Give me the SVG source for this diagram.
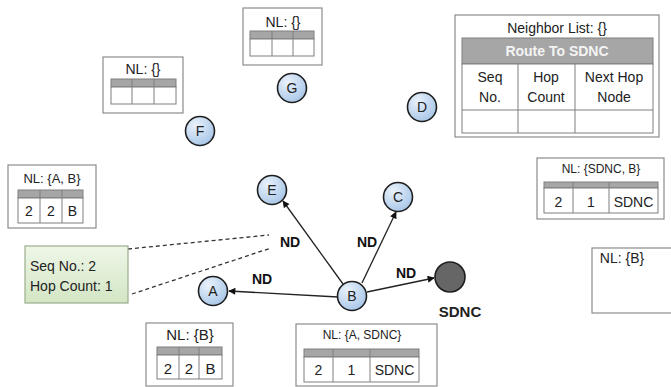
<svg xmlns="http://www.w3.org/2000/svg" width="671" height="387" viewBox="0 0 671 387">
<defs>
  <radialGradient id="nodeFill" cx="0.35" cy="0.3" r="0.8">
    <stop offset="0" stop-color="#eaf2fb"/>
    <stop offset="1" stop-color="#a3c3e6"/>
  </radialGradient>
  <linearGradient id="greenFill" x1="0" y1="0" x2="0" y2="1">
    <stop offset="0" stop-color="#eef6e8"/>
    <stop offset="1" stop-color="#d3e6c4"/>
  </linearGradient>
  <marker id="arr" viewBox="0 0 10 10" refX="9" refY="5" markerWidth="8" markerHeight="7" markerUnits="userSpaceOnUse" orient="auto">
    <path d="M0,0 L10,5 L0,10 z" fill="#111"/>
  </marker>
</defs>
<style>
  text { font-family: "Liberation Sans", Arial, sans-serif; fill: #222; }
  .box { fill: #fff; stroke: #8c8c8c; stroke-width: 1.2; }
  .hdr { fill: #a6a6a6; stroke: #7f7f7f; stroke-width: 1; }
  .cell { fill: #fff; stroke: #7f7f7f; stroke-width: 1; }
  .ln { stroke: #7f7f7f; stroke-width: 1; }
  .node { fill: url(#nodeFill); stroke: #1e1e1e; stroke-width: 1.6; }
  .nlabel { font-size: 14px; text-anchor: middle; fill: #222; }
  .nd { font-size: 14px; font-weight: bold; fill: #111; }
  .edge { stroke: #222; stroke-width: 1.3; fill: none; marker-end: url(#arr); }
  .dash { stroke: #333; stroke-width: 1.3; stroke-dasharray: 4 3; fill: none; }
  .c { text-anchor: middle; }
</style>

<g id="connectors">
  <line class="edge" x1="343" y1="284" x2="283" y2="201"/>
  <line class="edge" x1="362" y1="283" x2="396" y2="212"/>
  <line class="edge" x1="367" y1="292" x2="434" y2="278"/>
  <line class="edge" x1="338" y1="297" x2="229" y2="291"/>
  <line class="dash" x1="128" y1="249" x2="269" y2="235"/>
  <line class="dash" x1="132" y1="294" x2="271" y2="248"/>
  <text class="nd" x="280" y="247">ND</text>
  <text class="nd" x="357" y="247">ND</text>
  <text class="nd" x="396" y="278">ND</text>
  <text class="nd" x="252" y="284">ND</text>
</g>

<g id="node-G"><circle class="node" cx="292" cy="88" r="14.5"/><text class="nlabel" x="292" y="93">G</text></g>
<g id="node-D"><circle class="node" cx="422" cy="107" r="14.5"/><text class="nlabel" x="422" y="112">D</text></g>
<g id="node-F"><circle class="node" cx="200" cy="131" r="14.5"/><text class="nlabel" x="200" y="136">F</text></g>
<g id="node-E"><circle class="node" cx="272" cy="190" r="14.5"/><text class="nlabel" x="272" y="195">E</text></g>
<g id="node-C"><circle class="node" cx="398" cy="197" r="14.5"/><text class="nlabel" x="398" y="202">C</text></g>
<g id="node-A"><circle class="node" cx="213" cy="291" r="14.5"/><text class="nlabel" x="213" y="296">A</text></g>
<g id="node-B"><circle class="node" cx="352" cy="296" r="14.5"/><text class="nlabel" x="352" y="301">B</text></g>
<g id="node-SDNC">
  <circle cx="450" cy="277" r="15" fill="#666" stroke="#1e1e1e" stroke-width="1.6"/>
  <text x="460" y="317" class="c" font-size="15" font-weight="bold" fill="#111">SDNC</text>
</g>

<g id="table-SDNC-route">
  <rect class="box" x="455" y="15" width="204" height="122"/>
  <text x="557" y="33" class="c" font-size="14">Neighbor List: {}</text>
  <rect class="hdr" x="462" y="38" width="191" height="26"/>
  <text x="557" y="56" class="c" font-size="14" font-weight="bold" style="fill:#f4f4f4">Route To SDNC</text>
  <rect class="cell" x="462" y="64" width="191" height="69"/>
  <line class="ln" x1="462" y1="110" x2="653" y2="110"/>
  <line class="ln" x1="518" y1="64" x2="518" y2="133"/>
  <line class="ln" x1="575" y1="64" x2="575" y2="133"/>
  <text x="490" y="82" class="c" font-size="14">Seq</text>
  <text x="490" y="102" class="c" font-size="14">No.</text>
  <text x="546" y="82" class="c" font-size="14">Hop</text>
  <text x="546" y="102" class="c" font-size="14">Count</text>
  <text x="614" y="82" class="c" font-size="14">Next Hop</text>
  <text x="614" y="102" class="c" font-size="14">Node</text>
</g>

<g id="table-G">
  <rect class="box" x="243" y="8" width="79" height="57"/>
  <text x="283" y="27" class="c" font-size="14">NL: {}</text>
  <rect class="hdr" x="250" y="31" width="64" height="8"/>
  <rect class="cell" x="250" y="39" width="64" height="17"/>
  <line class="ln" x1="272" y1="31" x2="272" y2="56"/>
  <line class="ln" x1="293" y1="31" x2="293" y2="56"/>
</g>

<g id="table-F">
  <rect class="box" x="103" y="57" width="80" height="56"/>
  <text x="143" y="74" class="c" font-size="14">NL: {}</text>
  <rect class="hdr" x="111" y="79" width="65" height="8"/>
  <rect class="cell" x="111" y="87" width="65" height="17"/>
  <line class="ln" x1="132" y1="79" x2="132" y2="104"/>
  <line class="ln" x1="154" y1="79" x2="154" y2="104"/>
</g>

<g id="table-E">
  <rect class="box" x="8" y="165" width="88" height="63"/>
  <text x="52" y="183" class="c" font-size="13">NL: {A, B}</text>
  <rect class="hdr" x="18" y="190" width="65" height="8"/>
  <rect class="cell" x="18" y="198" width="65" height="25"/>
  <line class="ln" x1="40" y1="190" x2="40" y2="223"/>
  <line class="ln" x1="62" y1="190" x2="62" y2="223"/>
  <text x="29" y="216" class="c" font-size="14">2</text>
  <text x="51" y="216" class="c" font-size="14">2</text>
  <text x="72.5" y="216" class="c" font-size="14">B</text>
</g>

<g id="packet-note">
  <rect x="25" y="246" width="103" height="57" fill="url(#greenFill)" stroke="#9aae8a" stroke-width="1.2"/>
  <text x="30" y="271" font-size="14">Seq No.: 2</text>
  <text x="30" y="291" font-size="14">Hop Count: 1</text>
</g>

<g id="table-C">
  <rect class="box" x="537" y="158" width="127" height="61"/>
  <text x="601" y="173" class="c" font-size="12">NL: {SDNC, B}</text>
  <rect class="hdr" x="544" y="182" width="114" height="6"/>
  <rect class="cell" x="544" y="188" width="114" height="25"/>
  <line class="ln" x1="573" y1="182" x2="573" y2="213"/>
  <line class="ln" x1="609" y1="182" x2="609" y2="213"/>
  <text x="558.5" y="207" class="c" font-size="14">2</text>
  <text x="591" y="207" class="c" font-size="14">1</text>
  <text x="633.5" y="207" class="c" font-size="14">SDNC</text>
</g>

<g id="table-SDNC">
  <rect class="box" x="592" y="248" width="84" height="65"/>
  <text x="622" y="263" class="c" font-size="14">NL: {B}</text>
</g>

<g id="table-A">
  <rect class="box" x="146" y="323" width="87" height="63"/>
  <text x="190" y="340" class="c" font-size="15">NL: {B}</text>
  <rect class="hdr" x="157" y="347" width="65" height="8"/>
  <rect class="cell" x="157" y="355" width="65" height="24"/>
  <line class="ln" x1="179" y1="347" x2="179" y2="379"/>
  <line class="ln" x1="199" y1="347" x2="199" y2="379"/>
  <text x="168" y="374" class="c" font-size="15">2</text>
  <text x="189" y="374" class="c" font-size="15">2</text>
  <text x="210.5" y="374" class="c" font-size="15">B</text>
</g>

<g id="table-B">
  <rect class="box" x="296" y="324" width="141" height="62"/>
  <text x="362" y="339" class="c" font-size="12">NL: {A, SDNC}</text>
  <rect class="hdr" x="304" y="349" width="115" height="8"/>
  <rect class="cell" x="304" y="357" width="115" height="25"/>
  <line class="ln" x1="333" y1="349" x2="333" y2="382"/>
  <line class="ln" x1="370" y1="349" x2="370" y2="382"/>
  <text x="318.5" y="375" class="c" font-size="14">2</text>
  <text x="351.5" y="375" class="c" font-size="14">1</text>
  <text x="394.5" y="375" class="c" font-size="14">SDNC</text>
</g>
</svg>
